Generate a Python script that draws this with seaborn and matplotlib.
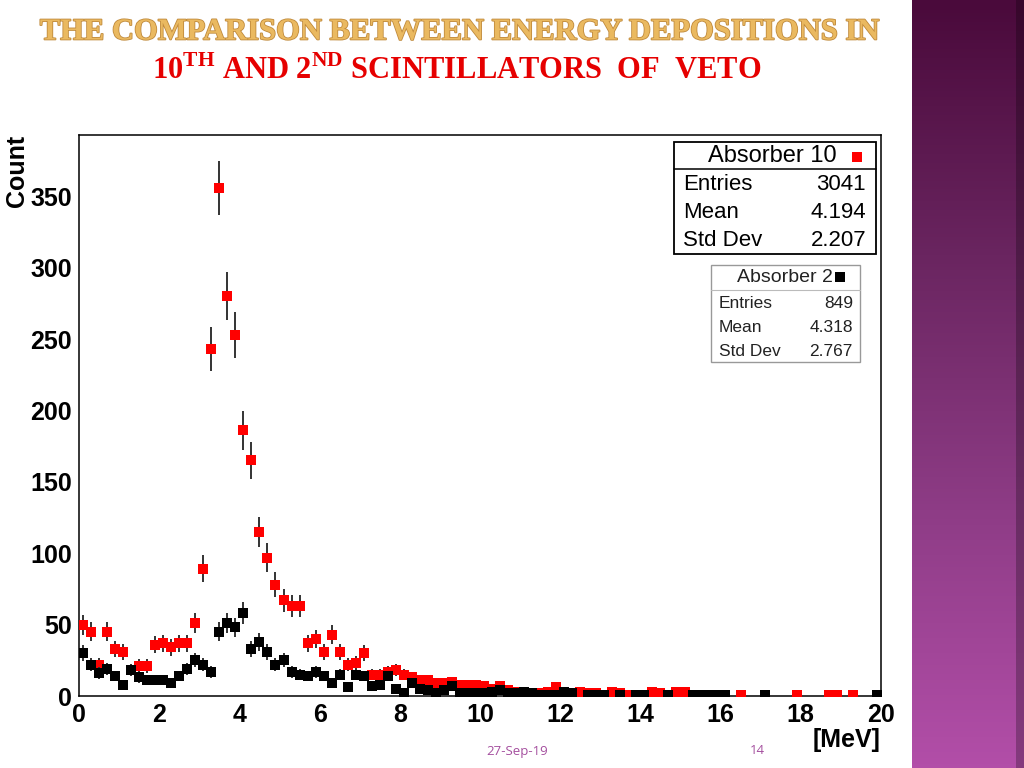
import numpy as np
import pandas as pd
import matplotlib
matplotlib.use("Agg")
import matplotlib.pyplot as plt
import matplotlib.patheffects as pe
from matplotlib.patches import Rectangle
from matplotlib.colors import LinearSegmentedColormap
from matplotlib.ticker import MultipleLocator
import seaborn as sns

# histogram binning: 100 bins of 0.2 MeV between 0 and 20 MeV
bin_edges = np.linspace(0, 20, 101)
energy = (bin_edges[:-1] + bin_edges[1:]) / 2

# counts per bin (0 = empty bin, not drawn)
counts_abs10 = [50, 45, 22, 45, 33, 31, 18, 21, 21, 36,
                37, 34, 37, 37, 51, 89, 243, 356, 280, 253,
                186, 165, 115, 97, 78, 67, 63, 63, 37, 40,
                31, 43, 31, 22, 23, 30, 15, 15, 17, 18,
                15, 13, 11, 11, 9, 9, 10, 8, 8, 8,
                7, 5, 7, 4, 3, 3, 2, 2, 3, 6,
                2, 2, 3, 2, 2, 1, 3, 2, 1, 0,
                1, 3, 2, 1, 3, 3, 1, 0, 1, 0,
                0, 0, 1, 0, 0, 0, 0, 0, 0, 1,
                0, 0, 0, 1, 1, 0, 1, 0, 0, 0]
counts_abs2 = [30, 22, 16, 19, 14, 8, 18, 13, 11, 11,
               11, 9, 14, 19, 25, 22, 17, 45, 51, 48,
               58, 33, 38, 31, 22, 25, 17, 15, 14, 17,
               14, 9, 15, 6, 15, 14, 7, 8, 14, 5,
               2, 9, 5, 4, 2, 4, 7, 2, 2, 2,
               2, 3, 4, 2, 2, 3, 2, 1, 1, 1,
               3, 2, 0, 1, 1, 1, 0, 1, 0, 1,
               1, 0, 0, 1, 0, 0, 1, 1, 1, 1,
               1, 0, 0, 0, 0, 1, 0, 0, 0, 0,
               0, 0, 0, 0, 0, 0, 0, 0, 0, 1]

stat_names = ["Entries", "Mean", "Std Dev"]
stats_abs10 = ["3041", "4.194", "2.207"]
stats_abs2 = ["849", "4.318", "2.767"]

df = pd.concat([
    pd.DataFrame({"energy": energy, "count": counts_abs10, "absorber": "Absorber 10"}),
    pd.DataFrame({"energy": energy, "count": counts_abs2, "absorber": "Absorber 2"}),
])
df = df[df["count"] > 0].copy()
df["err"] = np.sqrt(df["count"])

sns.set_style("white")
plt.rcParams["font.family"] = ["Liberation Sans", "DejaVu Sans"]
plt.rcParams["mathtext.fontset"] = "custom"
plt.rcParams["mathtext.rm"] = "Liberation Serif:bold"
plt.rcParams["mathtext.bf"] = "Liberation Serif:bold"

fig = plt.figure(figsize=(10.24, 7.68), dpi=100)
ax = fig.add_axes([79 / 1024, 1 - 696 / 768, (881 - 79) / 1024, (696 - 135) / 768])

z = 2
for name, color in [("Absorber 10", "#ff0000"), ("Absorber 2", "black")]:
    sub = df[df["absorber"] == name]
    ax.vlines(sub["energy"], sub["count"] - sub["err"], sub["count"] + sub["err"],
              color="#333333", lw=1.4, zorder=z)
    sns.scatterplot(data=sub, x="energy", y="count", color=color, marker="s", s=60,
                    linewidth=0, ax=ax, zorder=z + 1, legend=False)
    z += 2

ax.set_xlim(0, 20)
ax.set_ylim(0, 393)
ax.xaxis.set_major_locator(MultipleLocator(2))
ax.xaxis.set_minor_locator(MultipleLocator(0.5))
ax.yaxis.set_major_locator(MultipleLocator(50))
ax.yaxis.set_minor_locator(MultipleLocator(10))
ax.tick_params(which="both", direction="in", top=False, right=False, color="black",
               labelcolor="black", width=1.1)
ax.tick_params(axis="y", which="major", length=18.5, pad=5, labelsize=18)
ax.tick_params(axis="y", which="minor", length=10)
ax.tick_params(axis="x", which="major", length=11.5, pad=5, labelsize=18)
ax.tick_params(axis="x", which="minor", length=6)
plt.setp(ax.get_xticklabels() + ax.get_yticklabels(), fontweight="bold")
for sp in ax.spines.values():
    sp.set_color("black")
    sp.set_linewidth(1.1)

ax.set_xlabel("[MeV]", loc="right", fontsize=18, fontweight="bold", color="black")
ax.xaxis.set_label_coords(1.0, -0.057)
ax.set_ylabel("Count", loc="top", fontsize=18, fontweight="bold", color="black")
ax.yaxis.set_label_coords(-0.062, 1.0)

# overlay in pixel coordinates for slide decorations and stat boxes
ov = fig.add_axes([0, 0, 1, 1], zorder=10)
ov.patch.set_alpha(0)
purple = LinearSegmentedColormap.from_list("slide", ["#4a0a3b", "#6a2560", "#8e3c86", "#b24ea8"])
ov.imshow(np.linspace(0, 1, 256).reshape(-1, 1), cmap=purple, extent=(912, 1024, 768, 0), aspect="auto")
ov.add_patch(Rectangle((1016, 0), 8, 768, color="black", alpha=0.25, lw=0))
ov.set_xlim(0, 1024)
ov.set_ylim(768, 0)
ov.axis("off")

ov.text(459, 32, "THE COMPARISON BETWEEN ENERGY DEPOSITIONS IN", ha="center", va="center",
        fontsize=22, family="Liberation Serif", fontweight="bold", color="#eab960",
        path_effects=[pe.withStroke(linewidth=1.2, foreground="#c08a3c")])
ov.text(457, 71, r"10$^{\mathrm{TH}}$ AND 2$^{\mathrm{ND}}$ SCINTILLATORS  OF  VETO", ha="center",
        va="center", fontsize=22, family="Liberation Serif", fontweight="bold", color="#e60000")

ov.text(517, 751, "27-Sep-19", ha="center", va="center", fontsize=9.5, color="#a44e9e", family="Open Sans")
ov.text(757, 751, "14", ha="center", va="center", fontsize=9.5, color="#a44e9e", family="Open Sans")

# stat box: Absorber 10
ov.add_patch(Rectangle((674, 142), 202, 112, facecolor="white", edgecolor="black", lw=1.3))
ov.plot([674, 876], [169, 169], color="black", lw=1.1)
ov.text(772, 156, "Absorber 10", ha="center", va="center", fontsize=17, color="black")
ov.scatter([857], [157], marker="s", s=60, color="#ff0000", linewidth=0)
for i, (nm, val) in enumerate(zip(stat_names, stats_abs10)):
    ov.text(683, 184 + 28.5 * i, nm, ha="left", va="center", fontsize=16, color="black")
    ov.text(866, 184 + 28.5 * i, val, ha="right", va="center", fontsize=16, color="black")

# stat box: Absorber 2
ov.add_patch(Rectangle((711, 265), 149, 97, facecolor="white", edgecolor="#999999", lw=1.0))
ov.plot([711, 860], [290, 290], color="#bbbbbb", lw=0.8)
ov.text(785, 278, "Absorber 2", ha="center", va="center", fontsize=14, color="#222222")
ov.scatter([840], [277], marker="s", s=60, color="black", linewidth=0)
for i, (nm, val) in enumerate(zip(stat_names, stats_abs2)):
    ov.text(719, 303 + 24.5 * i, nm, ha="left", va="center", fontsize=12.5, color="#222222")
    ov.text(853, 303 + 24.5 * i, val, ha="right", va="center", fontsize=12.5, color="#222222")

fig.savefig("out.png", dpi=100)
